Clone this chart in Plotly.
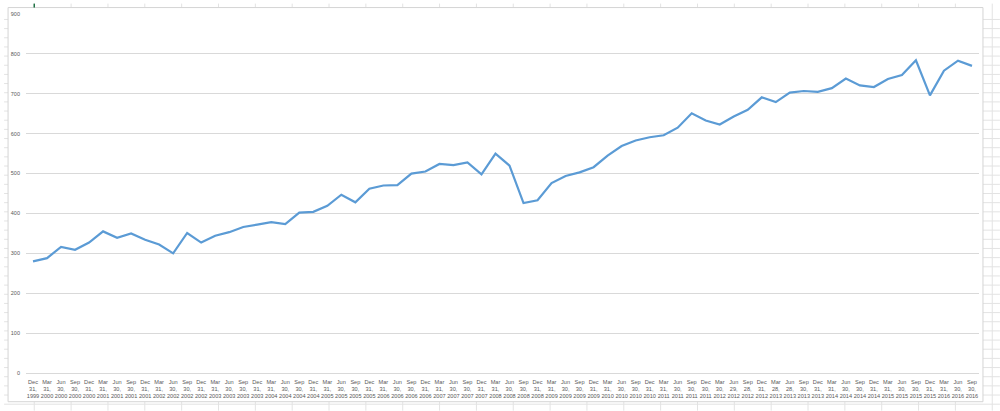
import plotly.graph_objects as go

# ---- data ----
dates = [
    "Dec 31, 1999",
    "Mar 31, 2000", "Jun 30, 2000", "Sep 30, 2000", "Dec 31, 2000",
    "Mar 31, 2001", "Jun 30, 2001", "Sep 30, 2001", "Dec 31, 2001",
    "Mar 31, 2002", "Jun 30, 2002", "Sep 30, 2002", "Dec 31, 2002",
    "Mar 31, 2003", "Jun 30, 2003", "Sep 30, 2003", "Dec 31, 2003",
    "Mar 31, 2004", "Jun 30, 2004", "Sep 30, 2004", "Dec 31, 2004",
    "Mar 31, 2005", "Jun 30, 2005", "Sep 30, 2005", "Dec 31, 2005",
    "Mar 31, 2006", "Jun 30, 2006", "Sep 30, 2006", "Dec 31, 2006",
    "Mar 31, 2007", "Jun 30, 2007", "Sep 30, 2007", "Dec 31, 2007",
    "Mar 31, 2008", "Jun 30, 2008", "Sep 30, 2008", "Dec 31, 2008",
    "Mar 31, 2009", "Jun 30, 2009", "Sep 30, 2009", "Dec 31, 2009",
    "Mar 31, 2010", "Jun 30, 2010", "Sep 30, 2010", "Dec 31, 2010",
    "Mar 31, 2011", "Jun 30, 2011", "Sep 30, 2011", "Dec 30, 2011",
    "Mar 30, 2012", "Jun 29, 2012", "Sep 28, 2012", "Dec 31, 2012",
    "Mar 28, 2013", "Jun 28, 2013", "Sep 30, 2013", "Dec 31, 2013",
    "Mar 31, 2014", "Jun 30, 2014", "Sep 30, 2014", "Dec 31, 2014",
    "Mar 31, 2015", "Jun 30, 2015", "Sep 30, 2015", "Dec 31, 2015",
    "Mar 31, 2016", "Jun 30, 2016", "Sep 30, 2016",
]
values = [
    280, 288, 316, 309, 327, 355, 339, 350, 334, 322, 300, 351, 327, 344, 353, 366,
    372, 378, 373, 402, 404, 419, 447, 428, 462, 470, 471, 500, 505, 524, 521, 528,
    498, 550, 520, 426, 433, 476, 494, 503, 516, 545, 569, 583, 591, 596, 615, 651,
    633, 623, 643, 660, 691, 679, 703, 707, 705, 714, 738, 721, 717, 737, 747, 784,
    696, 758, 783, 770,
]
y_ticks = [0, 100, 200, 300, 400, 500, 600, 700, 800, 900]

labels = [d.replace(" ", "<br>") for d in dates]

W, H = 1000, 411
ML, MR, MT, MB = 22, 21, 10.5, 38
PW, PH = W - ML - MR, H - MT - MB


def px(x):
    return (x - ML) / PW


def py(y):
    return (H - MB - y) / PH


fig = go.Figure()
fig.add_trace(go.Scatter(
    x=labels, y=values, mode="lines",
    line=dict(color="#5b9bd5", width=2.2),
    hoverinfo="x+y",
))

shapes = []
cell = "#e3e3e3"
# spreadsheet cell grid behind the chart
xc = 30.3
while xc < W:
    shapes.append(dict(type="line", xref="paper", yref="paper", layer="below",
                       x0=px(xc), x1=px(xc), y0=py(0), y1=py(H),
                       line=dict(color=cell, width=1)))
    xc += 37
yr = 16
while yr < H:
    shapes.append(dict(type="line", xref="paper", yref="paper", layer="below",
                       x0=px(0), x1=px(W), y0=py(yr), y1=py(yr),
                       line=dict(color=cell, width=1)))
    yr += 9.25
# chart area
shapes.append(dict(type="rect", xref="paper", yref="paper", layer="below",
                   x0=px(4), x1=px(983), y0=py(4), y1=py(402),
                   fillcolor="white", line=dict(color="#d4d4d4", width=1)))
# selected cell marker
shapes.append(dict(type="line", xref="paper", yref="paper", layer="below",
                   x0=px(30.3), x1=px(30.3), y0=py(0), y1=py(4),
                   line=dict(color="#217346", width=1.5)))

fig.update_layout(
    width=W, height=H,
    margin=dict(l=ML, r=MR, t=MT, b=MB, pad=0),
    paper_bgcolor="white",
    plot_bgcolor="white",
    showlegend=False,
    shapes=shapes,
    font=dict(family="Liberation Sans, Arial, sans-serif", color="#595959"),
)
fig.update_xaxes(
    type="category", categoryorder="array", categoryarray=labels,
    range=[-0.5, len(labels) - 0.5],
    showgrid=False, showline=True, linecolor="#d9d9d9", linewidth=1,
    ticks="", tickangle=0, tickfont=dict(size=5.6, color="#595959"),
    ticklabelstandoff=3,
    zeroline=False, fixedrange=True,
)
fig.update_yaxes(
    range=[0, 900], tickvals=y_ticks, ticktext=[str(v) for v in y_ticks],
    showgrid=True, gridcolor="#d9d9d9", gridwidth=1,
    showline=False, zeroline=False, ticks="",
    tickfont=dict(size=5.5, color="#595959"), ticklabelstandoff=5,
    fixedrange=True,
)

fig.write_html(
    "out.html",
    config={"displayModeBar": False},
    post_script="document.body.style.margin='0';document.body.style.overflow='hidden';",
)
